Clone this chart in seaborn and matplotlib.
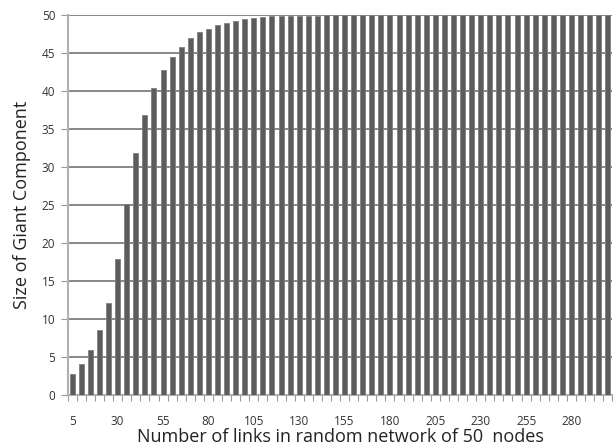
import matplotlib
matplotlib.use("Agg")
import matplotlib.pyplot as plt
import seaborn as sns
import numpy as np
import pandas as pd

# Number of links added to the 50-node random network
links = list(range(5, 305, 5))

# Average size of the giant component for each link count
giant_size = [
    2.8, 4.1, 5.9, 8.5, 12.1, 17.9, 25.1, 31.8, 36.8, 40.4,
    42.8, 44.5, 45.7, 46.9, 47.7, 48.1, 48.6, 48.9, 49.2, 49.4,
    49.6, 49.7, 49.8, 49.8, 49.9, 49.9, 49.9, 49.9, 49.95, 49.95,
    49.95, 49.95, 49.97, 49.97, 49.97, 50.0, 50.0, 50.0, 50.0, 50.0,
    50.0, 50.0, 50.0, 50.0, 50.0, 50.0, 50.0, 50.0, 50.0, 50.0,
    50.0, 50.0, 50.0, 50.0, 50.0, 50.0, 50.0, 50.0, 50.0, 50.0,
]

y_ticks = list(range(0, 55, 5))
x_label_every = 5

df = pd.DataFrame({"links": links, "size": giant_size})

sns.set_theme(style="white")
plt.rcParams["font.family"] = ["Open Sans", "DejaVu Sans"]

fig = plt.figure(figsize=(6.16, 4.48), dpi=100)
ax = fig.add_axes([0.110, 0.118, 0.884, 0.849])

sns.barplot(data=df, x="links", y="size", color="#5c5c5c", width=0.55,
            edgecolor="#808080", linewidth=0.6, saturation=1, ax=ax, zorder=3)

ax.set_ylim(0, 50)
ax.set_xlim(-0.5, len(links) - 0.5)
ax.set_yticks(y_ticks)
ax.set_yticklabels([str(v) for v in y_ticks], fontsize=8.5, color="#333333")

# category labels every fifth bar, tick marks at category boundaries
pos = list(range(0, len(links), x_label_every))
ax.set_xticks(pos)
ax.set_xticklabels([str(links[i]) for i in pos], fontsize=8.5, color="#333333")
ax.set_xticks(np.arange(-0.5, len(links), 1.0), minor=True)
ax.tick_params(axis="x", which="major", length=0, pad=14)
ax.tick_params(axis="x", which="minor", length=4, width=0.8, color="#999999",
               direction="out", bottom=True)
ax.tick_params(axis="y", length=5, width=0.8, color="#999999", left=True,
               direction="out", pad=4)

ax.yaxis.grid(True, color="#7f7f7f", linewidth=1.3, zorder=0)
ax.set_axisbelow(True)

for side in ["top", "right"]:
    ax.spines[side].set_visible(False)
ax.spines["left"].set_color("#b0b0b0")
ax.spines["left"].set_linewidth(1.5)
ax.spines["bottom"].set_color("#b0b0b0")
ax.spines["bottom"].set_linewidth(1.5)

ax.set_xlabel("Number of links in random network of 50  nodes", fontsize=13,
              color="#222222", labelpad=0)
ax.set_ylabel("Size of Giant Component", fontsize=13, color="#222222",
              labelpad=8)

fig.savefig("out.png", dpi=100)
